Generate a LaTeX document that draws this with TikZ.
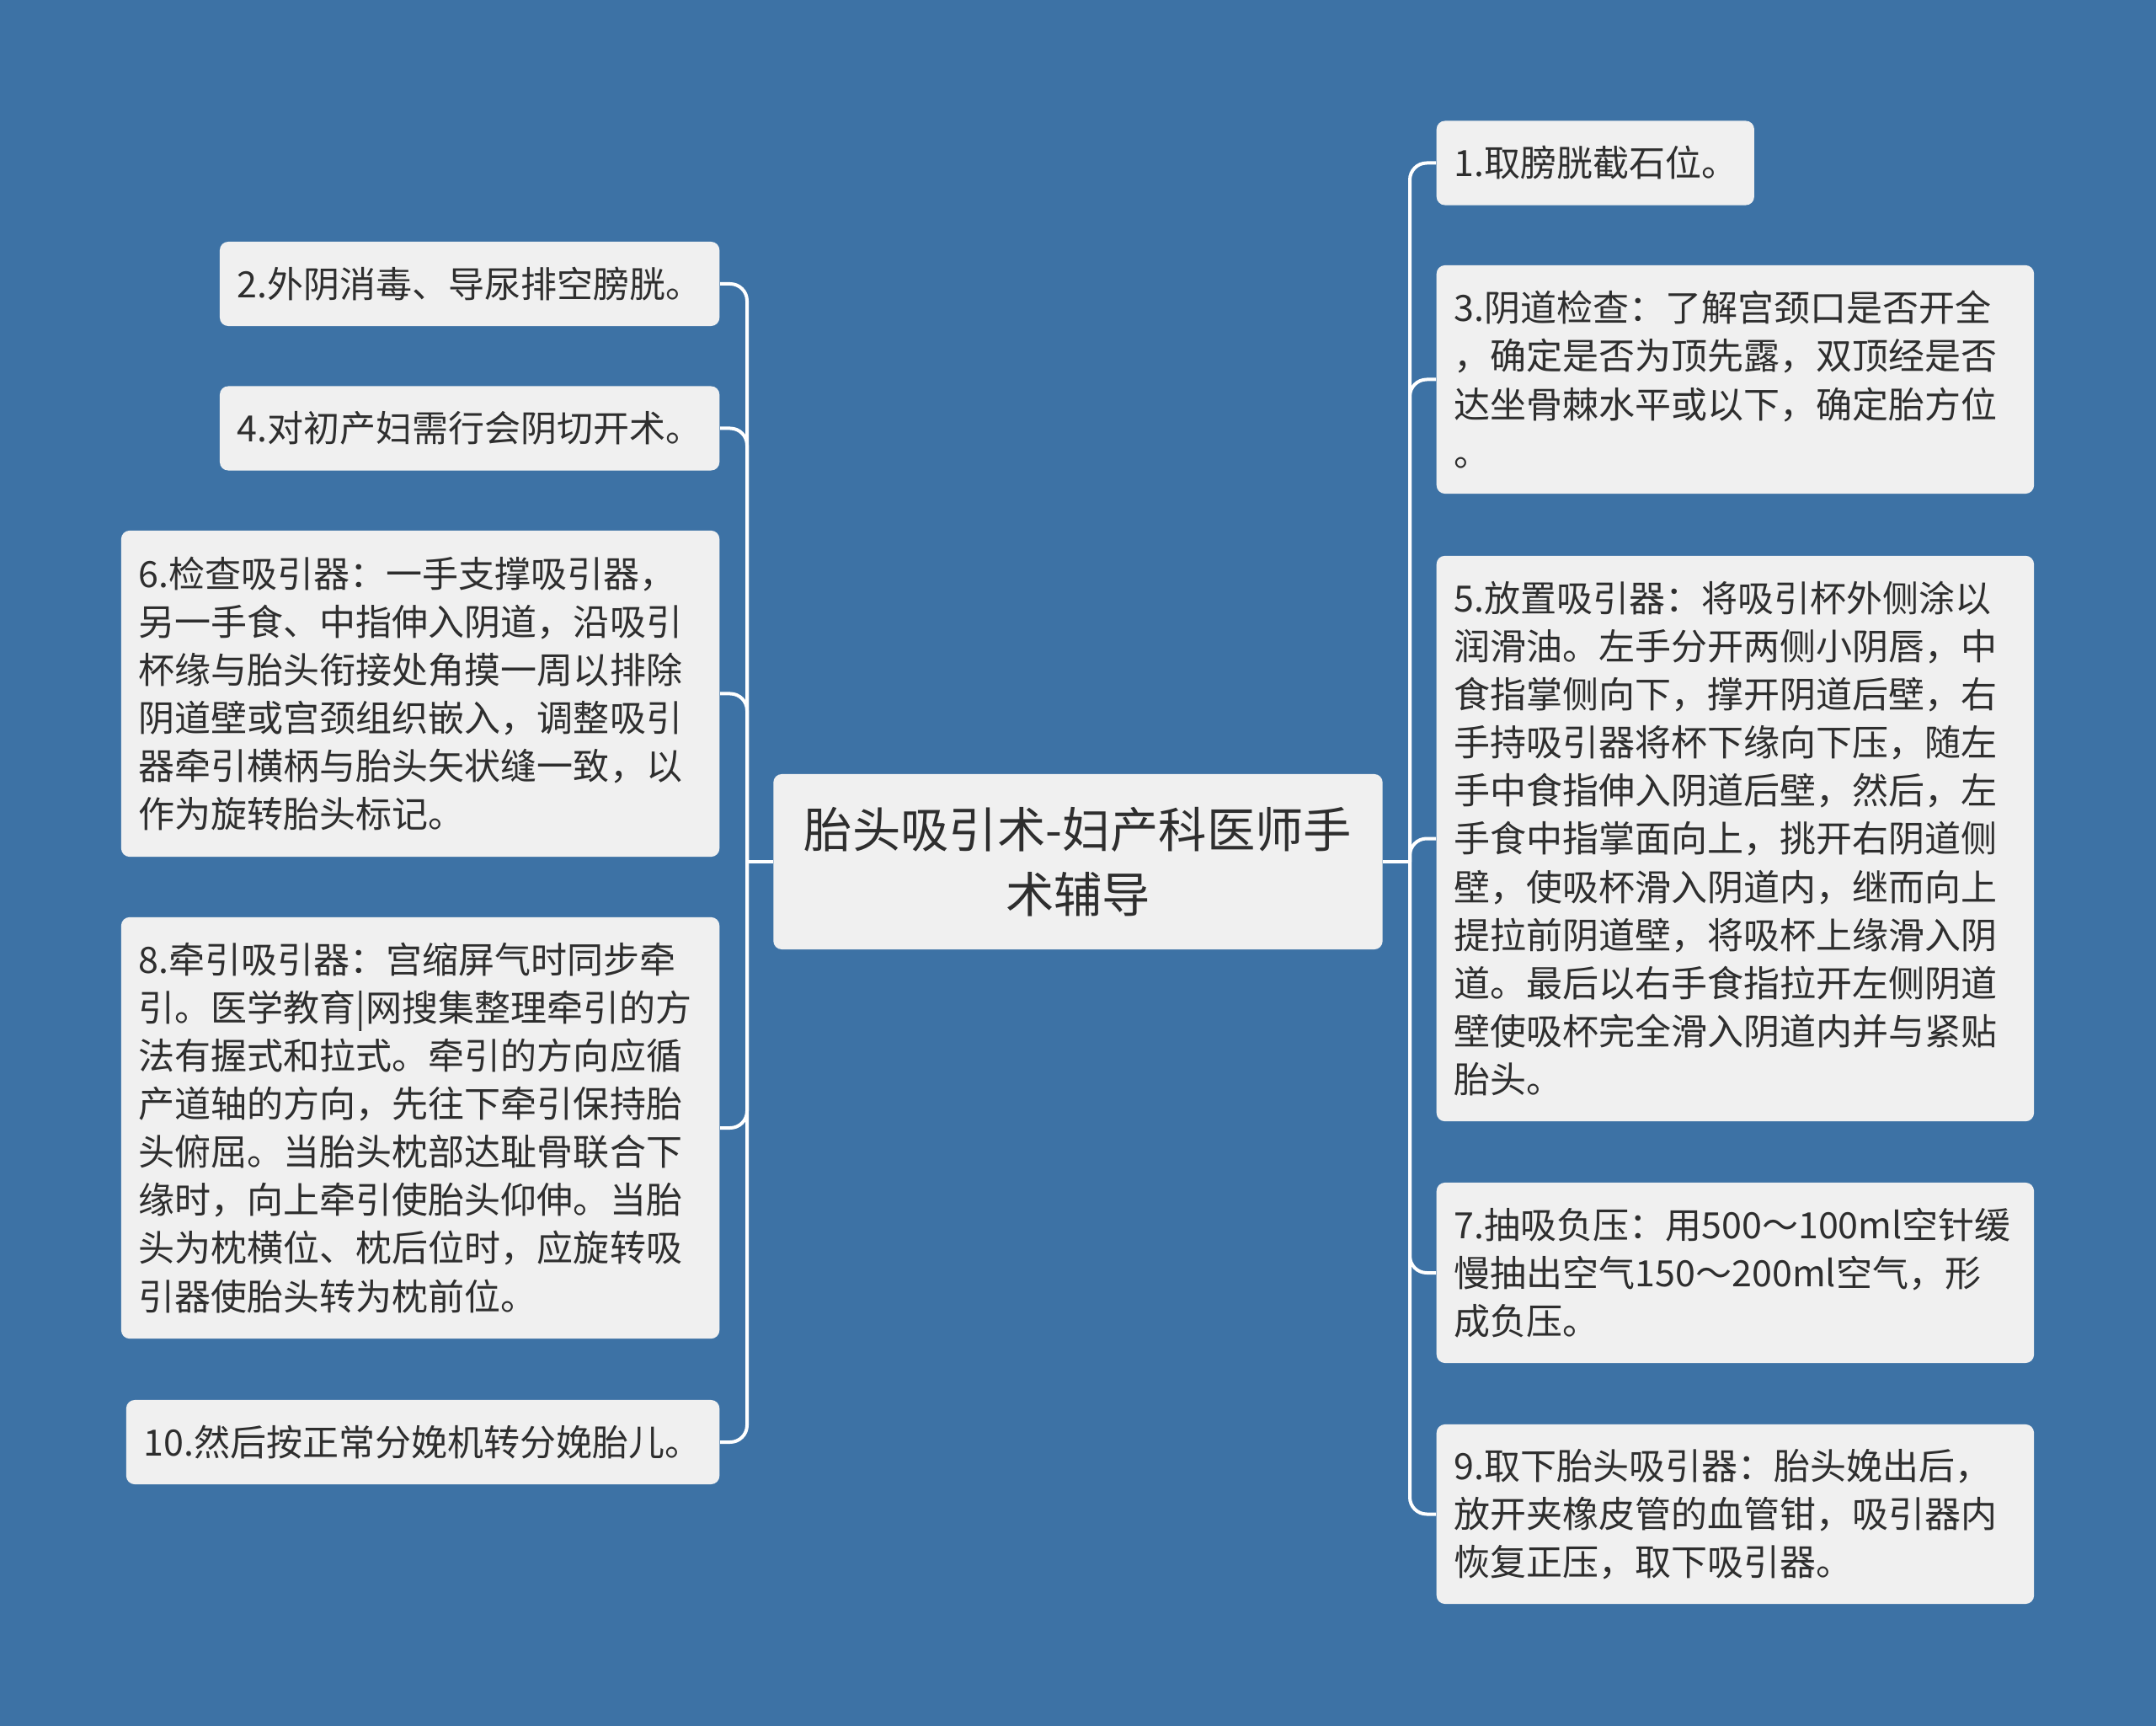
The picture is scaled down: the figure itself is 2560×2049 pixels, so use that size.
\documentclass[tikz,border=0pt]{standalone}
\usepackage{fontspec}
\newfontfamily\cjk{Noto Sans CJK SC}
\definecolor{bgblue}{HTML}{3D72A5}
\definecolor{boxgray}{HTML}{F0F0F0}
\definecolor{inkgray}{HTML}{2E2E2E}
\begin{document}
\begin{tikzpicture}[x=0.01cm,y=-0.01cm]
\tikzstyle{every node}+=[inner xsep=0.21cm, inner ysep=0pt]
\tikzstyle{leaf}=[fill=boxgray, text=inkgray, rounded corners=0.1cm, align=left, font=\cjk\fontsize{12.23pt}{16.22pt}\selectfont]
\tikzstyle{link}=[white, line width=0.04cm, rounded corners=0.2cm]
\fill [bgblue] (0,0) rectangle (2560,2049);
\node [leaf, align=center, text width=6.81cm, minimum height=2.08cm, font=\cjk\fontsize{16.3pt}{21.9pt}\selectfont] (root) at (1280,1023) {胎头吸引术-妇产科医师手\\术辅导};
\node [leaf, anchor=west, text width=3.35cm, minimum height=1cm] (p1) at (1705,193.5) {1.取膀胱截石位。};
\node [leaf, anchor=east, text width=5.51cm, minimum height=1cm] (p2) at (855,337) {2.外阴消毒、导尿排空膀胱。};
\node [leaf, anchor=west, text width=6.67cm, minimum height=2.71cm] (p3) at (1705,450.5) {3.阴道检查：了解宫颈口是否开全\\，确定是否为顶先露，双顶经是否\\达坐骨棘水平或以下，确定胎方位\\。};
\node [leaf, anchor=east, text width=5.51cm, minimum height=1cm] (p4) at (855,508.5) {4.对初产妇需行会阴切开术。};
\node [leaf, anchor=west, text width=6.67cm, minimum height=6.71cm] (p5) at (1705,995.5) {5.放置吸引器：将吸引杯外侧涂以\\润滑油。左手分开两侧小阴唇，中\\食指掌侧向下，撑开阴道后壁，右\\手持吸引器将杯下缘向下压，随左\\手中食指伸入阴道后壁，然后，左\\手食中指掌面向上，挑开右阴道侧\\壁，使吸杯滑入阴道内，继而向上\\提拉前阴道壁，将吸杯上缘滑入阴\\道。最后以右手食指拉开左侧阴道\\壁使吸杯完全滑入阴道内并与紧贴\\胎头。};
\node [leaf, anchor=east, text width=6.68cm, minimum height=3.87cm] (p6) at (855,823.5) {6.检查吸引器：一手支撑吸引器，\\另一手食、中指伸入阴道，沿吸引\\杯缘与胎头衔接处角摸一周以排除\\阴道壁或宫颈组织嵌入，调整吸引\\器牵引横柄与胎头矢状缝一致，以\\作为旋转胎头标记。};
\node [leaf, anchor=west, text width=6.67cm, minimum height=2.14cm] (p7) at (1705,1511) {7.抽吸负压：用500～100ml空针缓\\慢抽出空气150～200ml空气，形\\成负压。};
\node [leaf, anchor=east, text width=6.68cm, minimum height=5cm] (p8) at (855,1339) {8.牵引吸引器：宫缩屏气时同步牵\\引。医学教育|网搜集整理牵引的方\\法有握式和拉式。牵引的方向应循\\产道轴的方向，先往下牵引保持胎\\头俯屈。当胎头枕部达耻骨联合下\\缘时，向上牵引使胎头仰伸。当胎\\头为枕横位、枕后位时，应旋转吸\\引器使胎头转为枕前位。};
\node [leaf, anchor=west, text width=6.67cm, minimum height=2.13cm] (p9) at (1705,1797.5) {9.取下胎头吸引器：胎头娩出后，\\放开夹橡皮管的血管钳，吸引器内\\恢复正压，取下吸引器。};
\node [leaf, anchor=east, text width=6.62cm, minimum height=1cm] (p10) at (855,1712) {10.然后按正常分娩机转分娩胎儿。};
\coordinate (lj) at (887,1023);
\coordinate (rj) at (1674,1023);
\draw [link] (root.west) -- (lj);
\draw [link] (root.east) -- (rj);
\draw [link] (lj) |- (p2.east);
\draw [link] (lj) |- (p4.east);
\draw [link] (lj) |- (p6.east);
\draw [link] (lj) |- (p8.east);
\draw [link] (lj) |- (p10.east);
\draw [link] (rj) |- (p1.west);
\draw [link] (rj) |- (p3.west);
\draw [link] (rj) |- (p5.west);
\draw [link] (rj) |- (p7.west);
\draw [link] (rj) |- (p9.west);
\end{tikzpicture}
\end{document}
